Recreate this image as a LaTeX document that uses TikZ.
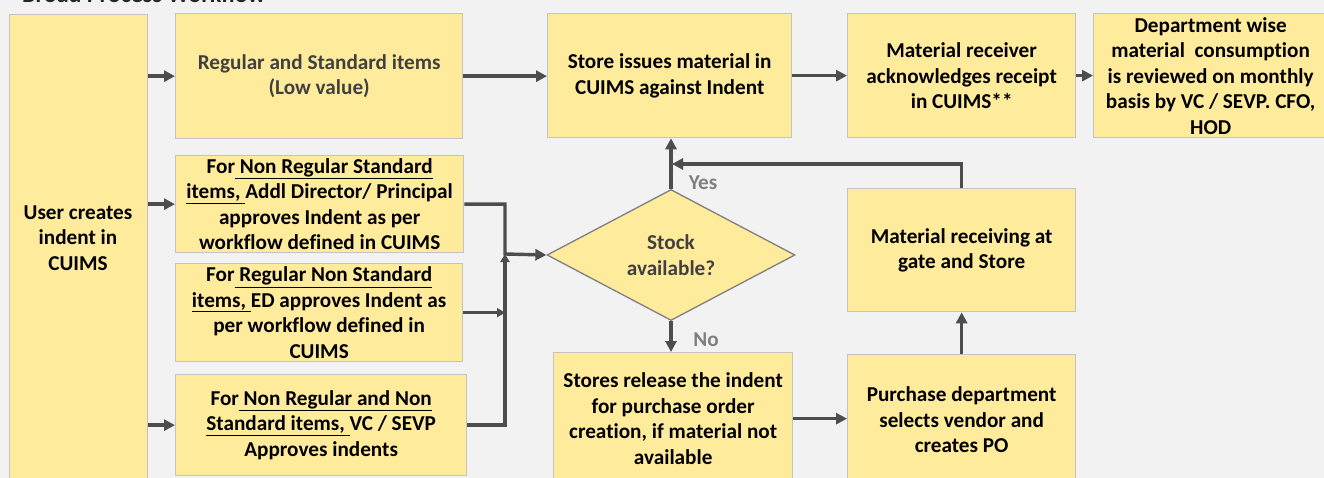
\documentclass[tikz,border=0pt]{standalone}
\usepackage{fontspec}
\setmainfont{Carlito}[Ligatures=NoCommon]
\usetikzlibrary{shapes.geometric,arrows.meta}
\definecolor{bg}{HTML}{F2F2F2}
\definecolor{boxfill}{HTML}{FFEB9C}
\definecolor{boxline}{HTML}{C3C3C3}
\definecolor{arr}{HTML}{4D4D4D}
\definecolor{dtext}{HTML}{404040}
\definecolor{gtext}{HTML}{7F7F7F}
\newcommand{\ul}[1]{\underline{#1}}
\begin{document}
\begin{tikzpicture}[x=1pt,y=-1pt,
  box/.style={draw=boxline, line width=1.3pt, fill=boxfill, rectangle, inner sep=0pt,
    align=center, font=\fontsize{21.2}{25.5}\selectfont\bfseries, anchor=north west},
  txt/.style={align=center, font=\fontsize{21.2}{25.5}\selectfont\bfseries, inner sep=0pt},
  conn/.style={draw=arr, line width=3.4pt, -{Triangle[length=11pt,width=11pt]}},
  smalltip/.style={draw=arr, line width=3.4pt, -{Triangle[length=8pt,width=9pt]}},
  lbl/.style={font=\fontsize{21.2}{25.5}\selectfont\bfseries, text=gtext, inner sep=0pt}]
\useasboundingbox (0,0) rectangle (1324,478);
\clip (0,0) rectangle (1324,478);
\fill[bg] (0,0) rectangle (1324,478);

\node[anchor=base west, font=\fontsize{24}{28}\selectfont\bfseries, text=black!85, inner sep=0pt] (title) at (22,3) {Broad Process Workflow};

% boxes
\node[box, minimum width=138pt, minimum height=480pt] (user) at (9,14) {};
\node[txt] (usertxt) at (78,238) {User creates\\indent in\\CUIMS};
\node[box, text=dtext, minimum width=287pt, minimum height=125pt] (reg) at (175,13) {Regular and Standard items\\(Low value)};
\node[box, minimum width=288pt, minimum height=97pt] (b2) at (175,155)
  {For\ul{ Non Regular Standard}\\\ul{items, }Addl Director/ Principal\\approves Indent as per\\workflow defined in CUIMS};
\node[box, minimum width=287pt, minimum height=98pt] (b3) at (175,263)
  {For\ul{ Regular Non Standard}\\\ul{items, }ED approves Indent as\\per workflow defined in\\CUIMS};
\node[box, minimum width=291pt, minimum height=101pt] (b4) at (175,374)
  {For\ul{ Non Regular and Non}\\\ul{Standard items, }VC / SEVP\\Approves indents};
\node[box, minimum width=244pt, minimum height=124pt] (store) at (547,13)
  {Store issues material in\\CUIMS against Indent};
\node[box, minimum width=228pt, minimum height=124pt] (recv) at (847,13)
  {Material receiver\\acknowledges receipt\\in CUIMS**};
\node[box, minimum width=234pt, minimum height=124pt] (dept) at (1093,13)
  {Department wise\\material\ \ consumption\\is reviewed on monthly\\basis by VC / SEVP. CFO,\\HOD};
\node[box, minimum width=228pt, minimum height=123pt] (gate) at (847,188)
  {Material receiving at\\gate and Store};
\node[box, minimum width=228pt, minimum height=130pt] (purch) at (847,354)
  {Purchase department\\selects vendor and\\creates PO};
\node[box, minimum width=239pt, minimum height=132pt] (rel) at (553,352)
  {Stores release the indent\\for purchase order\\creation, if material not\\available};
\node[diamond, draw=gtext, line width=1.3pt, fill=boxfill, inner sep=0pt, aspect=1.9,
  minimum width=248pt, minimum height=131pt, align=center, text=dtext,
  font=\fontsize{21.2}{25.5}\selectfont\bfseries] (dia) at (671,255) {Stock\\available?};

\coordinate (jn) at (505,254);
\coordinate (yj) at (672,164);

% connectors
\draw[conn] (user.east |- reg.west) -- (reg.west);
\draw[conn] (user.east |- b2.west) -- (b2.west);
\draw[conn] (user.east |- b4.west) -- (b4.west);
\draw[conn] (reg.east) -- (reg.east -| store.west);
\draw[conn] (store.east) -- (store.east -| recv.west);
\draw[conn] (recv.east) -- (recv.east -| dept.west);
\draw[conn] (b2.east) -| (jn) -- (dia.west);
\draw[smalltip] (b4.east) -| (jn);
\draw[smalltip] (b3.east) -- (b3.east -| jn);
\draw[conn] (dia.north) -- (dia.north |- store.south);
\draw[conn] (gate.north) |- (yj);
\draw[conn] (dia.south) -- (dia.south |- rel.north);
\draw[conn] (rel.east) -- (rel.east -| purch.west);
\draw[conn] (purch.north) -- (gate.south);

\node[lbl] (yes) at (703,183) {Yes};
\node[lbl] (no) at (706,340) {No};
\end{tikzpicture}
\end{document}
